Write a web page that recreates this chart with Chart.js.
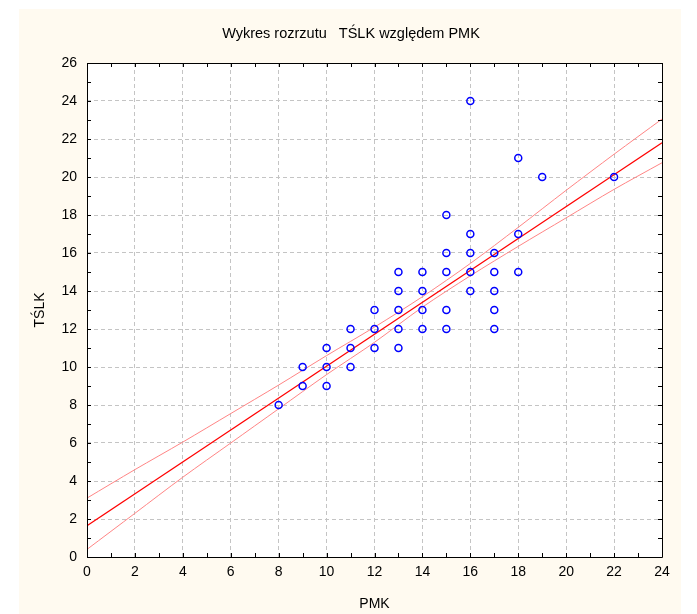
<!DOCTYPE html>
<html><head><meta charset="utf-8">
<script src="https://cdn.jsdelivr.net/npm/chart.js@4.4.0/dist/chart.umd.min.js"></script>
<style>html,body{margin:0;padding:0;background:#fff;} canvas{display:block;}</style>
</head><body>
<canvas id="c" width="697" height="614"></canvas>
<script>
const chartTitle = 'Wykres rozrzutu   TŚLK względem PMK';
const xAxisTitle = 'PMK';
const yAxisTitle = 'TŚLK';
const pmk  = [8, 9, 9, 10, 10, 10, 11, 11, 11, 12, 12, 12, 13, 13, 13, 13, 13, 14, 14, 14, 14, 15, 15, 15, 15, 15, 16, 16, 16, 16, 16, 17, 17, 17, 17, 17, 18, 18, 18, 19, 22];
const tslk = [8, 10, 9, 11, 10, 9, 12, 11, 10, 13, 12, 11, 15, 14, 13, 12, 11, 15, 14, 13, 12, 18, 16, 15, 13, 12, 24, 17, 16, 15, 14, 16, 15, 14, 13, 12, 21, 17, 15, 20, 20];
const fitX = [0, 24];
const fitY = [1.65, 21.8];
const bandX     = [0, 2, 4, 6, 8, 10, 12, 14, 16, 18, 20, 22, 24];
const bandUpper = [3.1, 4.6, 6.05, 7.55, 9.05, 10.6, 12.1, 13.7, 15.45, 17.35, 19.3, 21.2, 23.05];
const bandLower = [0.4, 2.3, 4.2, 6.0, 7.8, 9.6, 11.3, 13.15, 14.8, 16.35, 17.85, 19.35, 20.75];
const xTicks = [0, 2, 4, 6, 8, 10, 12, 14, 16, 18, 20, 22, 24];
const yTicks = [0, 2, 4, 6, 8, 10, 12, 14, 16, 18, 20, 22, 24, 26];

const toXY = (xs, ys) => xs.map((x, i) => ({x: x, y: ys[i]}));

const bgPlugin = {
  id: 'bg',
  beforeDraw(chart) {
    const ctx = chart.ctx, a = chart.chartArea;
    ctx.save();
    ctx.fillStyle = '#ffffff';
    ctx.fillRect(0, 0, chart.width, chart.height);
    ctx.fillStyle = '#fffaf0';
    ctx.fillRect(19, 9, 662, 605);
    ctx.fillStyle = '#ffffff';
    ctx.fillRect(a.left, a.top, a.right - a.left, a.bottom - a.top);
    ctx.restore();
  }
};

const framePlugin = {
  id: 'frame',
  afterDraw(chart) {
    const ctx = chart.ctx, a = chart.chartArea;
    const xs = chart.scales.x, ys = chart.scales.y;
    ctx.save();
    ctx.strokeStyle = '#000000';
    ctx.lineWidth = 1;
    ctx.beginPath();
    ctx.rect(Math.round(a.left) + 0.5, Math.round(a.top) + 0.5, Math.round(a.right - a.left), Math.round(a.bottom - a.top));
    ctx.stroke();
    ctx.beginPath();
    const tl = 4;
    for (let v = xs.min; v <= xs.max; v++) {
      const px = Math.round(xs.getPixelForValue(v)) + 0.5;
      ctx.moveTo(px, a.bottom); ctx.lineTo(px, a.bottom - tl);
      ctx.moveTo(px, a.top); ctx.lineTo(px, a.top + tl);
    }
    for (let v = ys.min; v <= ys.max; v++) {
      const py = Math.round(ys.getPixelForValue(v)) + 0.5;
      ctx.moveTo(a.left, py); ctx.lineTo(a.left + tl, py);
      ctx.moveTo(a.right, py); ctx.lineTo(a.right - tl, py);
    }
    ctx.stroke();
    ctx.restore();
  }
};

const font = 'Liberation Sans, Arial, sans-serif';

new Chart(document.getElementById('c'), {
  type: 'scatter',
  data: {
    datasets: [
      {
        label: 'TŚLK',
        data: toXY(pmk, tslk),
        pointStyle: 'circle',
        pointRadius: 3.5,
        pointBorderWidth: 1.5,
        borderColor: '#0000ff',
        backgroundColor: 'rgba(0,0,0,0)',
        showLine: false
      },
      {
        label: 'fit',
        data: toXY(fitX, fitY),
        showLine: true,
        pointRadius: 0,
        borderColor: '#ff0000',
        borderWidth: 1.2,
        fill: false
      },
      {
        label: 'upper',
        data: toXY(bandX, bandUpper),
        showLine: true,
        pointRadius: 0,
        borderColor: '#ff8585',
        borderWidth: 1,
        tension: 0.3,
        fill: false
      },
      {
        label: 'lower',
        data: toXY(bandX, bandLower),
        showLine: true,
        pointRadius: 0,
        borderColor: '#ff8585',
        borderWidth: 1,
        tension: 0.3,
        fill: false
      }
    ]
  },
  options: {
    responsive: false,
    animation: false,
    devicePixelRatio: 1,
    layout: { padding: { left: 40, right: 35, top: 0, bottom: 0 } },
    plugins: {
      legend: { display: false },
      tooltip: { enabled: false },
      title: {
        display: true,
        text: chartTitle,
        color: '#000',
        font: { family: font, size: 14.5, weight: 'normal' },
        padding: { top: 25, bottom: 20.6 }
      }
    },
    scales: {
      x: {
        type: 'linear',
        min: 0, max: 24,
        afterBuildTicks: s => { s.ticks = xTicks.map(v => ({value: v})); },
        afterFit: s => { s.height = 57; s.paddingLeft = 0; s.paddingRight = 0; },
        grid: { color: '#c4c4c4', lineWidth: 1, drawTicks: false },
        border: { display: false, dash: [4, 3] },
        ticks: { color: '#000', padding: 7, font: { family: font, size: 14 }, maxRotation: 0, autoSkip: false },
        title: { display: true, text: xAxisTitle, color: '#000', font: { family: font, size: 14 }, padding: { top: 0, bottom: 1 } }
      },
      y: {
        type: 'linear',
        min: 0, max: 26,
        afterBuildTicks: s => { s.ticks = yTicks.map(v => ({value: v})); },
        afterFit: s => { s.width = 47; s.paddingTop = 0; s.paddingBottom = 0; },
        grid: { color: '#c4c4c4', lineWidth: 1, drawTicks: false },
        border: { display: false, dash: [4, 3] },
        ticks: { color: '#000', padding: 10, font: { family: font, size: 14 }, autoSkip: false },
        title: { display: true, text: yAxisTitle, color: '#000', font: { family: font, size: 14 }, padding: { top: -8.4, bottom: 0 } }
      }
    }
  },
  plugins: [bgPlugin, framePlugin]
});
</script>
</body></html>
